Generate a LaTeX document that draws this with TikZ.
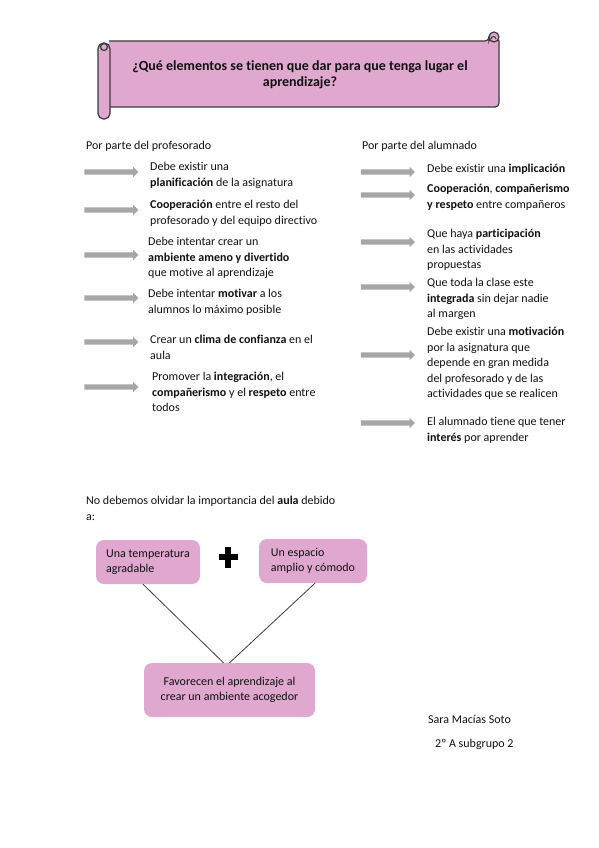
\documentclass[tikz,border=0pt]{standalone}
\usepackage{fontspec}
\setmainfont[Ligatures={NoCommon}]{Carlito}
\usetikzlibrary{
  arrows.meta,
  positioning,
  shapes.arrows
}
\definecolor{scrollPink}{HTML}{E0A8CF}
\definecolor{scrollInk}{HTML}{3A3A3A}
\definecolor{pointerGray}{HTML}{A6A6A6}
\definecolor{bodyInk}{HTML}{111111}
\tikzset{
  every node/.style={font=\fontsize{12}{15.5}\selectfont, text=bodyInk},
  scroll/.style={
    draw=scrollInk,
    line width=1.2pt,
    fill=scrollPink
  },
  item/.style={
    anchor=north west,
    inner sep=0pt,
    align=left
  },
  pointer/.style={
    single arrow,
    fill=pointerGray,
    draw=none,
    inner xsep=0pt,
    inner ysep=2.5pt,
    minimum height=54pt,
    single arrow head extend=2.5pt
  },
  pinkbox/.style={
    rounded corners=8pt,
    fill=scrollPink,
    draw=none,
    align=left,
    inner sep=0pt
  },
  joint/.style={
    draw=scrollInk,
    line width=0.8pt
  }
}

\begin{document}
\begin{tikzpicture}[x=1pt,y=-1pt]
  \useasboundingbox (0,0) rectangle (599,848);

  % scroll banner
  \draw[scroll, rounded corners=4pt] (109,41) -- (489,41) -- (489,37)
    -- (499,37) -- (499,107) -- (109,107);
  \draw[scroll] (494,37) circle (5pt);
  \draw[scrollInk, line width=1pt] (491,39) arc (180:360:2.5);
  \draw[scroll, rounded corners=5.5pt] (98,43) rectangle (110,119);
  \draw[scroll] (104,47) circle (3.5pt);
  \node[font=\bfseries\fontsize{14}{16}\selectfont, align=center] (question)
    at (300,75) {¿Qué elementos se tienen que dar para que tenga lugar el\\aprendizaje?};

  \node[item] (teachers) at (86,141) {Por parte del profesorado};
  \node[item] (students) at (362,141) {Por parte del alumnado};

  % teachers
  \node[pointer] (lp1) at (110,172) {};
  \node[item] (lt1) at (150,162) {Debe existir una\\\textbf{planificación} de la asignatura};
  \node[pointer] (lp2) at (110,210) {};
  \node[item] (lt2) at (150,200) {\textbf{Cooperación} entre el resto del\\profesorado y del equipo directivo};
  \node[pointer] (lp3) at (110,255) {};
  \node[item] (lt3) at (148,237) {Debe intentar crear un\\\textbf{ambiente ameno y divertido}\\que motive al aprendizaje};
  \node[pointer] (lp4) at (110,298) {};
  \node[item] (lt4) at (148,289) {Debe intentar \textbf{motivar} a los\\alumnos lo máximo posible};
  \node[pointer] (lp5) at (110,342) {};
  \node[item] (lt5) at (150,335) {Crear un \textbf{clima de confianza} en el\\aula};
  \node[pointer] (lp6) at (110,387) {};
  \node[item] (lt6) at (152,372) {Promover la \textbf{integración}, el\\\textbf{compañerismo} y el \textbf{respeto} entre\\todos};

  % students
  \node[pointer] (rp1) at (386.5,172) {};
  \node[item] (rt1) at (427,164) {Debe existir una \textbf{implicación}};
  \node[pointer] (rp2) at (386.5,195) {};
  \node[item] (rt2) at (427,184) {\textbf{Cooperación}, \textbf{compañerismo}\\\textbf{y respeto} entre compañeros};
  \node[pointer] (rp3) at (386.5,242) {};
  \node[item] (rt3) at (427,229) {Que haya \textbf{participación}\\en las actividades\\propuestas};
  \node[pointer] (rp4) at (386.5,287) {};
  \node[item] (rt4) at (427,278) {Que toda la clase este\\\textbf{integrada} sin dejar nadie\\al margen};
  \node[pointer] (rp5) at (386.5,355) {};
  \node[item] (rt5) at (427,327) {Debe existir una \textbf{motivación}\\por la asignatura que\\depende en gran medida\\del profesorado y de las\\actividades que se realicen};
  \node[pointer] (rp6) at (386.5,423) {};
  \node[item] (rt6) at (427,417) {El alumnado tiene que tener\\\textbf{interés} por aprender};

  % the classroom
  \node[item] (reminder) at (86,496) {No debemos olvidar la importancia del \textbf{aula} debido\\a:};

  \node[pinkbox, minimum width=104pt, minimum height=44pt]
    (temp) at (148,562) {Una temperatura\\agradable};
  \node[pinkbox, minimum width=108pt, minimum height=44pt]
    (space) at (313,561) {Un espacio\\amplio y cómodo};
  \node[pinkbox, align=center, minimum width=171pt, minimum height=54pt]
    (favour) at (229.5,690) {Favorecen el aprendizaje al\\crear un ambiente acogedor};

  \coordinate (plus) at (228,557);
  \draw[line width=6pt] ([xshift=-9.5pt]plus) -- ([xshift=9.5pt]plus);
  \draw[line width=6pt] ([yshift=-10.5pt]plus) -- ([yshift=10.5pt]plus);

  \draw[joint] ([xshift=-5pt]temp.south) -- ([xshift=-6pt]favour.north);
  \draw[joint] ([xshift=2pt]space.south) -- (favour.north);

  \node[item] (author) at (428,715) {Sara Macías Soto};
  \node[item] (group) at (435,739) {2º A subgrupo 2};
\end{tikzpicture}
\end{document}
